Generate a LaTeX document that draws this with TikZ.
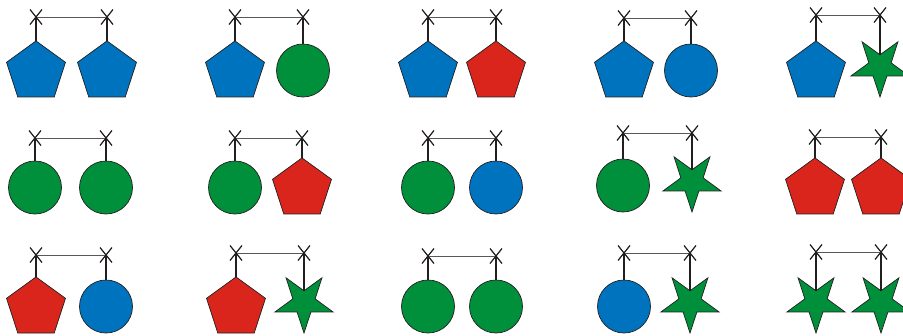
\documentclass[tikz,border=0pt]{standalone}
\usetikzlibrary{shapes.geometric,shapes.misc}
\definecolor{pblue}{RGB}{0,115,190}
\definecolor{pgreen}{RGB}{0,143,58}
\definecolor{pred}{RGB}{218,37,29}
\definecolor{ink}{RGB}{35,31,32}
\tikzset{
 shp/.style={draw=ink, line width=0.7pt, inner sep=0pt, outer sep=0pt, anchor=south},
 pent/.style={shp, regular polygon, regular polygon sides=5, minimum size=62pt},
 circ/.style={shp, circle, minimum size=53pt},
 starshape/.style={shp, star, star points=5, star point ratio=2.6, shape border rotate=180, minimum size=61pt},
 xmark/.style={cross out, draw=ink, line width=1.2pt, minimum width=12pt, minimum height=15pt, inner sep=0pt, outer sep=0pt},
 stem/.style={draw=ink, line width=2pt},
 bar/.style={draw=ink!75, line width=0.9pt},
}
% id, xL, xR, yLine, bottom, left style, right style, left top anchor, right top anchor
\newcommand\mypanel[9]{%
  \node[#6] (L#1) at (#2,#5) {};
  \node[#7] (R#1) at (#3,#5) {};
  \node[xmark] (XL#1) at (#2,#4) {};
  \node[xmark] (XR#1) at (#3,#4) {};
  \draw[bar] (XL#1.center) -- (XR#1.center);
  \draw[stem] (XL#1.center) -- (L#1.#8);
  \draw[stem] (XR#1.center) -- (R#1.#9);
}
\begin{document}
\begin{tikzpicture}[x=1pt,y=-1pt]
\useasboundingbox (0,0) rectangle (903,335);
% row 1
\mypanel{a}{36}{107}{17}{97}{pent,fill=pblue}{pent,fill=pblue}{north}{north}
\mypanel{b}{235}{303}{17}{97}{pent,fill=pblue}{circ,fill=pgreen}{north}{north}
\mypanel{c}{428}{496}{17}{97}{pent,fill=pblue}{pent,fill=pred}{north}{north}
\mypanel{d}{624}{691}{18}{97}{pent,fill=pblue}{circ,fill=pblue}{north}{north}
\mypanel{e}{816}{880}{15}{97}{pent,fill=pblue}{starshape,fill=pgreen}{north}{inner point 3}
% row 2
\mypanel{f}{35}{106}{138}{214}{circ,fill=pgreen}{circ,fill=pgreen}{north}{north}
\mypanel{g}{235}{302}{138}{214}{circ,fill=pgreen}{pent,fill=pred}{north}{north}
\mypanel{h}{428}{496}{138}{214}{circ,fill=pgreen}{circ,fill=pblue}{north}{north}
\mypanel{i}{623}{692}{133}{212}{circ,fill=pgreen}{starshape,fill=pgreen}{north}{inner point 3}
\mypanel{j}{815}{881}{137}{214}{pent,fill=pred}{pent,fill=pred}{north}{north}
% row 3
\mypanel{k}{36}{106}{255}{333}{pent,fill=pred}{circ,fill=pblue}{north}{north}
\mypanel{l}{236}{304}{253}{333}{pent,fill=pred}{starshape,fill=pgreen}{north}{inner point 3}
\mypanel{m}{428}{496}{256}{333}{circ,fill=pgreen}{circ,fill=pgreen}{north}{north}
\mypanel{n}{624}{690}{253}{333}{circ,fill=pblue}{starshape,fill=pgreen}{north}{inner point 3}
\mypanel{o}{816}{881}{252}{333}{starshape,fill=pgreen}{starshape,fill=pgreen}{inner point 3}{inner point 3}
\end{tikzpicture}
\end{document}
